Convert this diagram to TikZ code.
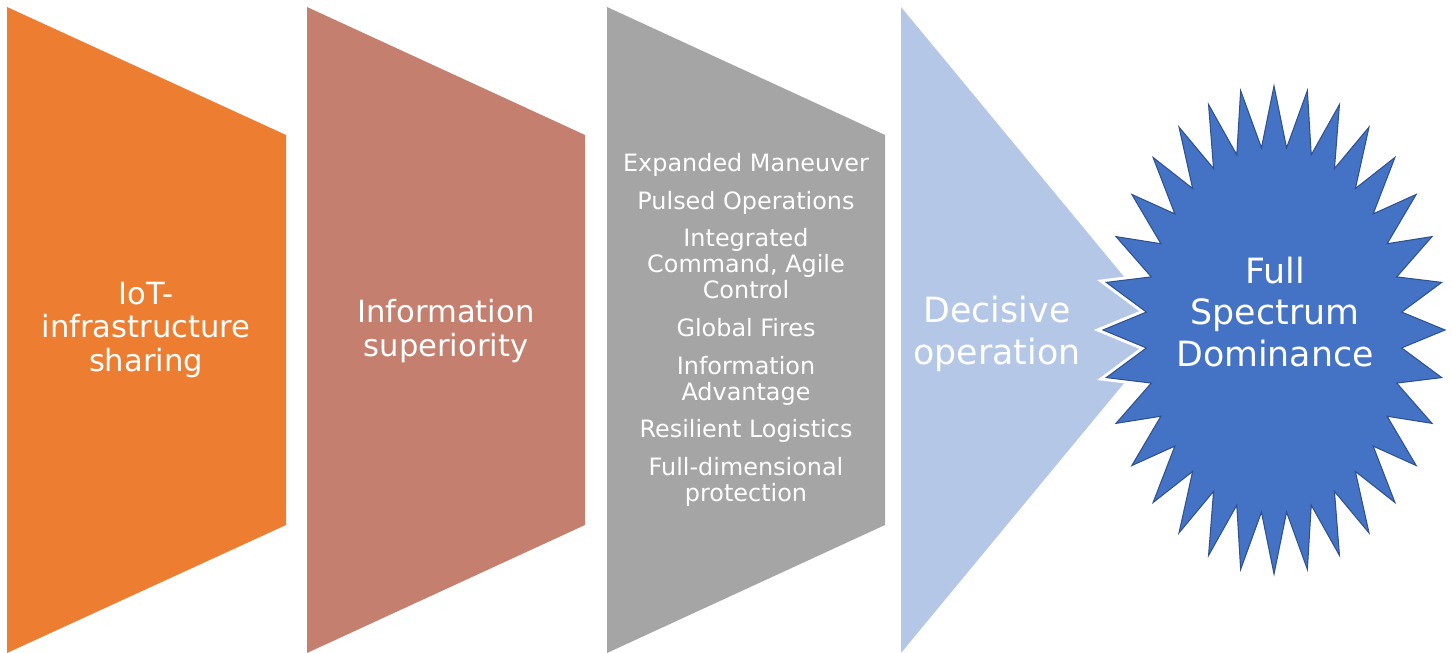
\documentclass[tikz,border=0pt]{standalone}
\usepackage{fontspec}
\setmainfont{DejaVu Sans}
\usepackage{xcolor}
\usepackage{tikz}
\definecolor{FPOrange}{HTML}{ED7D31}
\definecolor{FPBrown}{HTML}{C47F6F}
\definecolor{FPGray}{HTML}{A5A5A5}
\definecolor{FPLight}{HTML}{B4C7E7}
\definecolor{FPBlue}{HTML}{4472C4}
\definecolor{FPEdge}{HTML}{2F528F}
\tikzset{
  steptext/.style={text=white,align=center,font=\fontsize{17.4}{18.9}\selectfont},
  listtext/.style={text=white,align=center,font=\fontsize{13.6}{14.8}\selectfont},
  bigtext/.style={text=white,align=center,font=\fontsize{19.8}{23.8}\selectfont}
}

\begin{document}
\begin{tikzpicture}[x=2cm,y=2cm]
\path[use as bounding box] (0,0) rectangle (14.52,6.53);
\fill[FPOrange] (0.07,6.46) -- (2.86,5.18) -- (2.86,1.28) -- (0.07,0.00) -- cycle;
\fill[FPBrown] (3.07,6.46) -- (5.85,5.18) -- (5.85,1.28) -- (3.07,0.00) -- cycle;
\fill[FPGray] (6.07,6.46) -- (8.85,5.18) -- (8.85,1.28) -- (6.07,0.00) -- cycle;
\fill[FPLight] (9.01,6.46) -- (11.68,3.23) -- (9.01,0.00) -- cycle;
\draw[white,line width=4pt,line join=miter,fill=white]
  plot[samples at={0,...,63},variable=\k]
  ({12.74+1.71*(1-0.25*mod(\k,2))*cos(90+5.625*\k)},{3.23+2.44*(1-0.25*mod(\k,2))*sin(90+5.625*\k)}) -- cycle;
\draw[FPEdge,line width=.6pt,fill=FPBlue]
  plot[samples at={0,...,63},variable=\k]
  ({12.74+1.71*(1-0.25*mod(\k,2))*cos(90+5.625*\k)},{3.23+2.44*(1-0.25*mod(\k,2))*sin(90+5.625*\k)}) -- cycle;
\node[steptext] (iot) at (1.46,3.23) {IoT-\\infrastructure\\sharing};
\node[steptext] (info) at (4.46,3.22) {Information\\superiority};
\node[listtext] (tasks) at (7.46,3.23) {Expanded Maneuver\\[6.6pt]Pulsed Operations\\[6.6pt]Integrated\\Command, Agile\\Control\\[6.6pt]Global Fires\\[6.6pt]Information\\Advantage\\[6.6pt]Resilient Logistics\\[6.6pt]Full-dimensional\\protection};
\node[bigtext] (decisive) at (9.97,3.19) {Decisive\\operation};
\node[bigtext] (fsd) at (12.75,3.41) {Full\\Spectrum\\Dominance};
\end{tikzpicture}
\end{document}
